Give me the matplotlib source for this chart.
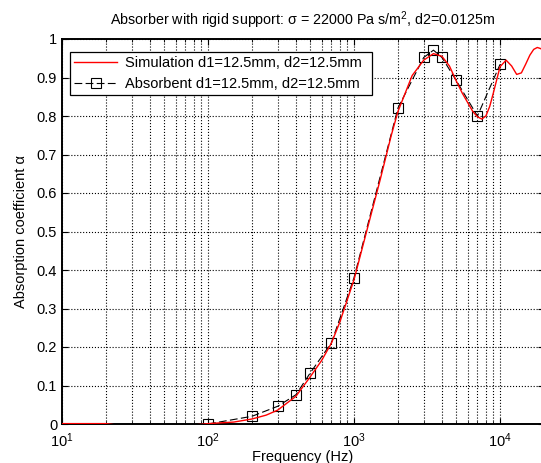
import matplotlib
matplotlib.use("Agg")
import matplotlib.pyplot as plt
from matplotlib.ticker import LogLocator, FixedLocator, NullFormatter

plt.rcParams['font.family'] = ['Liberation Sans', 'DejaVu Sans']
plt.rcParams['mathtext.fontset'] = 'custom'
plt.rcParams['mathtext.rm'] = 'Liberation Sans'
plt.rcParams['mathtext.it'] = 'Liberation Sans:italic'

# simulated absorption curve (dips just below zero at the low end, hidden by the axis)
sim_freq = [10, 15, 20, 25, 30, 40, 50, 70, 90, 100, 150, 200, 250, 300, 400, 500,
            600, 700, 800, 1000, 1200, 1500, 1800, 2000, 2500, 3000, 3500, 4000,
            4500, 5000, 5500, 6000, 6500, 7000, 7500, 8000, 8500, 9000, 9500,
            10000, 11000, 12000, 13000, 14000, 15000, 16000, 17000, 18000,
            19000, 20000]
sim_alpha = [0.001, 0.001, 0.001, -0.004, -0.005, -0.005, -0.005, -0.004, -0.001, 0.001,
             0.005, 0.013, 0.023, 0.036, 0.072, 0.122, 0.165, 0.21, 0.265, 0.375,
             0.49, 0.63, 0.75, 0.812, 0.905, 0.945, 0.962, 0.955, 0.93, 0.892,
             0.86, 0.835, 0.812, 0.798, 0.792, 0.80, 0.825, 0.86, 0.895, 0.928,
             0.945, 0.93, 0.908, 0.912, 0.935, 0.958, 0.973, 0.978, 0.975, 0.968]

# measured absorbent points
meas_freq = [100, 200, 300, 400, 500, 700, 1000, 2000, 3000, 3500, 4000, 5000,
             7000, 10000]
meas_alpha = [0.0, 0.02, 0.046, 0.076, 0.132, 0.211, 0.38, 0.821, 0.952, 0.971,
              0.952, 0.893, 0.80, 0.934]

yticks = [0, 0.1, 0.2, 0.3, 0.4, 0.5, 0.6, 0.7, 0.8, 0.9, 1]
ylabels = ['0', '0.1', '0.2', '0.3', '0.4', '0.5', '0.6', '0.7', '0.8', '0.9', '1']

W, H = 541, 463
fig = plt.figure(figsize=(W / 100, H / 100), dpi=100)
ax = fig.add_axes([62 / W, 39 / H, 482 / W, 385 / H])

ax.semilogx(sim_freq, sim_alpha, color='red', lw=1.0,
            label='Simulation d1=12.5mm, d2=12.5mm', zorder=6)
ax.semilogx(meas_freq, meas_alpha, color='black', lw=0.8, ls=(0, (7, 3)),
            marker='s', ms=7.5, mfc='none', mec='black', mew=0.8,
            label='Absorbent d1=12.5mm, d2=12.5mm', zorder=4)

ax.set_xlim(10, 2e4)
ax.set_ylim(0, 1)
ax.yaxis.set_major_locator(FixedLocator(yticks))
ax.set_yticklabels(ylabels)
ax.xaxis.set_major_locator(LogLocator(base=10, numticks=10))
ax.xaxis.set_minor_locator(LogLocator(base=10, subs=range(2, 10), numticks=20))
ax.xaxis.set_minor_formatter(NullFormatter())

ax.grid(True, which='major', color='black', ls=':', lw=0.8)
ax.grid(True, which='minor', axis='x', color='black', ls=':', lw=0.8)
ax.tick_params(which='both', direction='in', top=True, right=True, labelsize=10.5)
ax.tick_params(which='major', length=4)
ax.tick_params(which='minor', length=2.5)
ax.tick_params(axis='x', which='major', pad=5)
for sp in ax.spines.values():
    sp.set_linewidth(1.4)
    sp.set_zorder(5)

ax.set_title('Absorber with rigid support: σ = 22000 Pa s/m$^2$, d2=0.0125m',
             fontsize=10.3, pad=10)
ax.set_xlabel('Frequency (Hz)', fontsize=10.5, labelpad=0)
ax.set_ylabel('Absorption coefficient α', fontsize=10.5, labelpad=6)

# legend box: x 70..372 px, top at 52 px
bx0 = (70 - 62) / 482
bw = (372 - 70) / 482
btop = 1 - (52 - 39) / 385
leg = ax.legend(loc='upper left', bbox_to_anchor=(bx0, btop - 0.2, bw, 0.2),
                mode='expand', fontsize=10.5, fancybox=False, framealpha=1,
                edgecolor='black', handlelength=3.0, borderaxespad=0.0,
                borderpad=0.25, labelspacing=0.5, handletextpad=0.5)
leg.get_frame().set_linewidth(0.9)
leg.set_zorder(10)

fig.savefig('out.png', dpi=100)
